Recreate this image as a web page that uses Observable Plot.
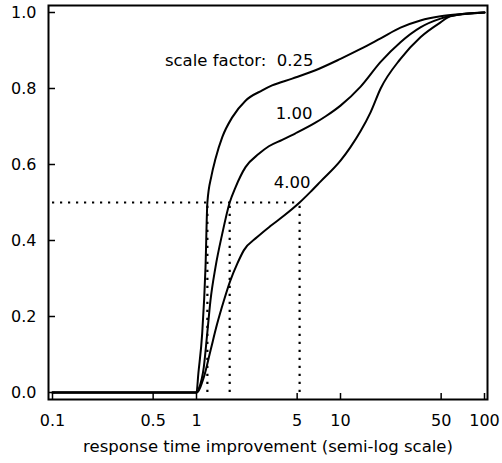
<!DOCTYPE html>
<html>
<head>
<meta charset="utf-8">
<script src="https://cdn.jsdelivr.net/npm/d3@7"></script>
<script src="https://cdn.jsdelivr.net/npm/@observablehq/plot@0.6"></script>
<style>
  body { margin: 0; background: #fff; }
</style>
</head>
<body>
<div id="chart"></div>
<script>
// Tick values on each axis
const xTicks = [0.1, 0.5, 1, 5, 10, 50, 100];
const yTicks = [0, 0.2, 0.4, 0.6, 0.8, 1.0];

// Cumulative distribution of response time improvement, one curve per scale factor
const x025 = [0.1, 1, 1.03, 1.095, 1.155, 1.19, 1.27, 1.355, 1.51, 1.77, 2.19, 2.86, 3.35, 4.62, 6.7, 10, 13.8, 19, 26.1, 35.9, 49.5, 70, 100];
const p025 = [0, 0, 0.05, 0.155, 0.33, 0.5, 0.57, 0.615, 0.672, 0.724, 0.768, 0.795, 0.808, 0.826, 0.848, 0.878, 0.904, 0.932, 0.96, 0.979, 0.99, 0.996, 1];

const x100 = [0.1, 1, 1.037, 1.124, 1.187, 1.25, 1.355, 1.51, 1.7, 1.866, 2.19, 2.71, 3.18, 3.94, 4.87, 6.7, 7.9, 10, 13.8, 19, 26.1, 35.9, 49.5, 70, 100];
const p100 = [0, 0, 0.01, 0.067, 0.155, 0.242, 0.33, 0.418, 0.5, 0.54, 0.593, 0.628, 0.648, 0.665, 0.682, 0.71, 0.727, 0.755, 0.805, 0.87, 0.922, 0.961, 0.984, 0.996, 1];

const x400 = [0.1, 1, 1.124, 1.25, 1.39, 1.55, 1.72, 1.92, 2.13, 2.64, 3.26, 4.04, 5.2, 6.19, 7.26, 10, 11.7, 13.8, 16.2, 19, 26.1, 35.9, 49.5, 58, 100];
const p400 = [0, 0, 0.04, 0.11, 0.18, 0.242, 0.295, 0.339, 0.374, 0.409, 0.438, 0.465, 0.5, 0.528, 0.555, 0.61, 0.645, 0.688, 0.738, 0.8, 0.878, 0.935, 0.974, 0.99, 1];

// Median improvement for each scale factor (where each curve reaches 0.5)
const scaleFactors = ["0.25", "1.00", "4.00"];
const medians = [1.19, 1.7, 5.2];

// Curve labels and where they sit (data units, text anchored at its end)
const labelText = ["scale factor:  0.25", "1.00", "4.00"];
const labelX = [6.5, 6.4, 6.2];
const labelY = [0.874, 0.734, 0.553];

const series = [[x025, p025], [x100, p100], [x400, p400]];
const rows = series.flatMap(([xs, ps], i) =>
  xs.map((x, j) => ({factor: scaleFactors[i], x, p: ps[j]})));
const labels = labelText.map((text, i) => ({text, x: labelX[i], y: labelY[i]}));

const chart = Plot.plot({
  width: 502,
  height: 463,
  marginLeft: 48,
  marginRight: 15,
  marginTop: 5,
  marginBottom: 64,
  style: {fontFamily: "'DejaVu Sans', sans-serif", fontSize: "16px", color: "black", background: "white"},
  x: {type: "log", domain: [0.1, 100], insetLeft: 4, insetRight: 3},
  y: {domain: [0, 1], insetTop: 7, insetBottom: 7},
  marks: [
    Plot.frame({stroke: "black", strokeWidth: 2}),
    Plot.axisY(yTicks, {
      tickSize: -7, tickPadding: 19, strokeWidth: 1.5,
      tickFormat: d3.format(".1f"), label: null
    }),
    Plot.axisX(xTicks, {
      ticks: 1000, tickSize: -6, tickPadding: 21, strokeWidth: 1.5,
      tickFormat: d => String(d),
      label: null
    }),
    Plot.axisX({
      ticks: [], tickSize: 0, dx: -5,
      label: "response time improvement (semi-log scale)",
      labelAnchor: "center", labelArrow: "none", labelOffset: 52, fontSize: 16.5
    }),
    // dotted guides at the median of each curve
    Plot.ruleY([0.5], {x1: 0.1, x2: d3.max(medians), stroke: "black", strokeWidth: 2.2, strokeDasharray: "2.2,5.8"}),
    Plot.ruleX(medians, {y1: 0, y2: 0.5, stroke: "black", strokeWidth: 2.2, strokeDasharray: "2.2,5.8"}),
    Plot.line(rows, {x: "x", y: "p", z: "factor", stroke: "black", strokeWidth: 2, curve: "monotone-x"}),
    Plot.text(labels, {x: "x", y: "y", text: "text", textAnchor: "end", fontSize: 16.5, fill: "black"})
  ]
});

document.getElementById("chart").append(chart);
</script>
</body>
</html>
